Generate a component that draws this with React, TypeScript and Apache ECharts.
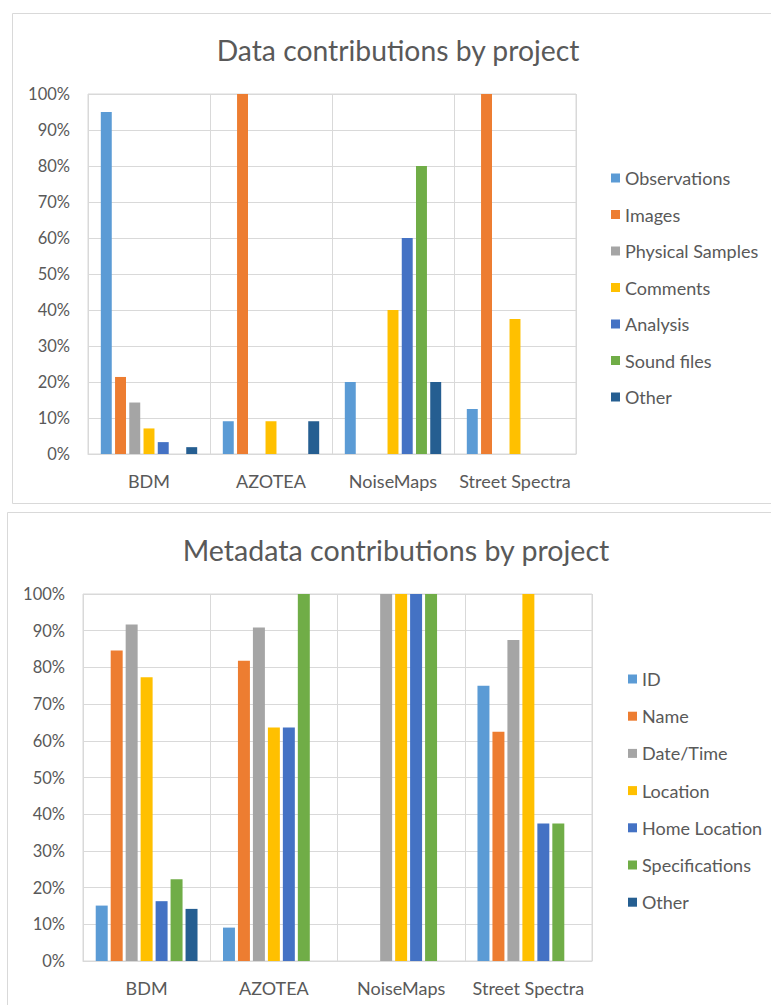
import React, { useEffect, useRef } from "react";
import * as echarts from "echarts";

const projects = ["BDM", "AZOTEA", "NoiseMaps", "Street Spectra"];
const percentTicks = [0, 10, 20, 30, 40, 50, 60, 70, 80, 90, 100];

// Data contributions
const dataSeriesNames = ["Observations", "Images", "Physical Samples", "Comments", "Analysis", "Sound files", "Other"];
const observations = [95, 9.1, 20, 12.5];
const images = [21.4, 100, 0, 100];
const physicalSamples = [14.3, 0, 0, 0];
const comments = [7.1, 9.1, 40, 37.5];
const analysis = [3.3, 0, 60, 0];
const soundFiles = [0, 0, 80, 0];
const otherData = [1.9, 9.1, 20, 0];

// Metadata contributions
const metaSeriesNames = ["ID", "Name", "Date/Time", "Location", "Home Location", "Specifications", "Other"];
const idValues = [15.1, 9.1, 0, 75];
const nameValues = [84.6, 81.8, 0, 62.5];
const dateTimeValues = [91.7, 90.9, 100, 87.5];
const locationValues = [77.3, 63.6, 100, 100];
const homeLocationValues = [16.3, 63.6, 100, 37.5];
const specificationsValues = [22.3, 100, 100, 37.5];
const otherMetaValues = [14.2, 0, 0, 0];

const palette = ["#5B9BD5", "#ED7D31", "#A5A5A5", "#FFC000", "#4472C4", "#70AD47", "#255E91"];
const FONT = "Lato, 'Noto Sans', sans-serif";
const TXT = "#595959";
const GRID = "#D9D9D9";

export default function App() {
  const ref = useRef<HTMLDivElement>(null);
  useEffect(() => {
    if (!ref.current) return;
    const chart = echarts.init(ref.current, undefined, { renderer: "svg" });
    const dataSets = [observations, images, physicalSamples, comments, analysis, soundFiles, otherData];
    const metaSets = [idValues, nameValues, dateTimeValues, locationValues, homeLocationValues, specificationsValues, otherMetaValues];

    const xAxisCommon = {
      type: "category" as const,
      data: projects,
      axisTick: { show: false },
      axisLine: { show: true, lineStyle: { color: GRID, width: 1 } },
      splitLine: { show: true, interval: 0, lineStyle: { color: GRID, width: 1 } },
      axisLabel: { color: TXT, fontFamily: FONT, fontSize: 18, margin: 18, interval: 0 },
    };
    const yAxisCommon = {
      type: "value" as const,
      min: percentTicks[0],
      max: percentTicks[percentTicks.length - 1],
      interval: 10,
      axisLine: { show: false },
      axisTick: { show: false },
      splitLine: { show: true, lineStyle: { color: GRID, width: 1 } },
      axisLabel: { color: TXT, fontFamily: FONT, fontSize: 16.5, margin: 18, formatter: "{value}%" },
    };

    const series: any[] = [];
    dataSeriesNames.forEach((n, i) => {
      series.push({
        type: "bar",
        name: n,
        xAxisIndex: 0,
        yAxisIndex: 0,
        data: dataSets[i],
        itemStyle: { color: palette[i] },
        barGap: "30%",
        barCategoryGap: "21%",
      });
    });
    metaSeriesNames.forEach((n, i) => {
      series.push({
        type: "bar",
        name: n,
        xAxisIndex: 1,
        yAxisIndex: 1,
        data: metaSets[i],
        itemStyle: { color: palette[i] },
        barGap: "25%",
        barCategoryGap: "20%",
      });
    });

    const legendCommon = {
      orient: "vertical" as const,
      icon: "rect",
      itemWidth: 9,
      itemHeight: 9,
      padding: 0,
      textStyle: { color: TXT, fontFamily: FONT, fontSize: 18 },
      selectedMode: false,
    };

    chart.setOption({
      animation: false,
      backgroundColor: "#ffffff",
      grid: [
        { left: 88, top: 94, width: 488, height: 360, show: true, borderColor: GRID, borderWidth: 1 },
        { left: 83, top: 594, width: 509, height: 367, show: true, borderColor: GRID, borderWidth: 1 },
      ],
      xAxis: [
        { ...xAxisCommon, gridIndex: 0 },
        { ...xAxisCommon, gridIndex: 1 },
      ],
      yAxis: [
        { ...yAxisCommon, gridIndex: 0 },
        { ...yAxisCommon, gridIndex: 1 },
      ],
      legend: [
        { ...legendCommon, data: dataSeriesNames, left: 611, top: 169, itemGap: 18.5 },
        { ...legendCommon, data: metaSeriesNames, left: 628, top: 670, itemGap: 19.2 },
      ],
      graphic: [
        {
          type: "rect",
          shape: { x: 12.5, y: 13.5, width: 770, height: 490 },
          style: { fill: "none", stroke: GRID, lineWidth: 1 },
          silent: true,
        },
        {
          type: "rect",
          shape: { x: 7.5, y: 512.5, width: 775, height: 500 },
          style: { fill: "none", stroke: GRID, lineWidth: 1 },
          silent: true,
        },
        {
          type: "text",
          x: 398,
          y: 50,
          style: {
            text: "Data contributions by project",
            fill: TXT,
            font: `28.3px ${FONT}`,
            textAlign: "center",
            textVerticalAlign: "middle",
          },
        },
        {
          type: "text",
          x: 396,
          y: 550,
          style: {
            text: "Metadata contributions by project",
            fill: TXT,
            font: `28.6px ${FONT}`,
            textAlign: "center",
            textVerticalAlign: "middle",
          },
        },
      ],
      series,
    });
    return () => chart.dispose();
  }, []);
  return <div ref={ref} style={{ position: "absolute", left: 0, top: 0, width: 771, height: 1005 }} />;
}
